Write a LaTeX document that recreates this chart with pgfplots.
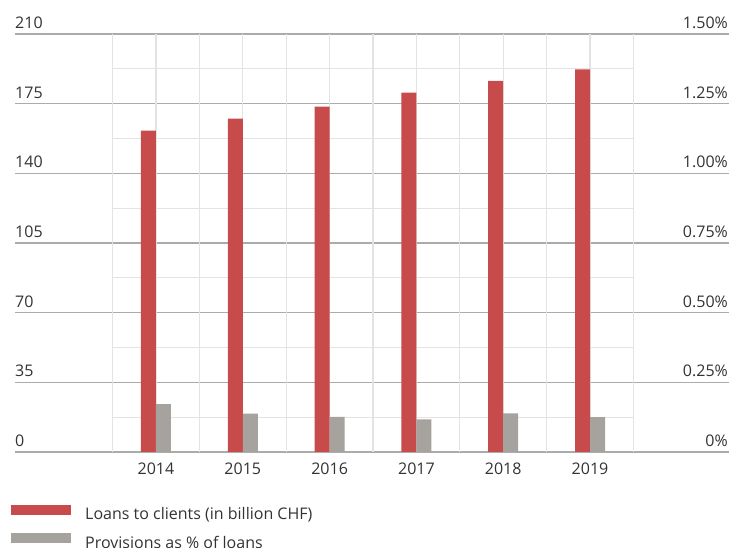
\documentclass[border=0pt]{standalone}
\usepackage{fontspec}
\setmainfont{Open Sans}
\usepackage{pgfplots}
\pgfplotsset{compat=1.18}
\definecolor{loanred}{HTML}{C84B4B}
\definecolor{provgrey}{HTML}{A6A29E}
\definecolor{majgrid}{HTML}{ABABAB}
\definecolor{mingrid}{HTML}{E3E3E3}
\definecolor{txt}{HTML}{333333}
\begin{document}
\begin{tikzpicture}[x=1bp,y=1bp]
\path[use as bounding box] (0,0) rectangle (732,548);
\begin{axis}[
  at={(15bp,96bp)}, anchor=south west,
  scale only axis, width=714bp, height=418bp,
  xmin=-1.624, xmax=6.601, ymin=0, ymax=210,
  axis line style={draw=none}, tick style={draw=none},
  font=\fontsize{16bp}{19bp}\selectfont, text=txt,
  xtick={0,1,2,3,4,5}, xticklabels={2014,2015,2016,2017,2018,2019},
  xticklabel style={anchor=north, inner sep=0pt, yshift=-10.5bp},
  ytick={0,35,70,105,140,175,210}, yticklabels={0,35,70,105,140,175,210},
  yticklabel style={anchor=south west, inner sep=0pt, yshift=5bp},
  ymajorgrids, grid style={majgrid, line width=1.2bp},
  legend style={at={(axis description cs:-0.0056,-0.126)}, anchor=north west,
    draw=none, fill=none, inner sep=0pt, row sep=12bp,
    font=\fontsize{16bp}{19bp}\selectfont, text=txt,
    nodes={inner sep=0pt}},
  legend cell align=left,
  legend image code/.code={\fill[#1,draw=none] (0bp,-0.5bp) rectangle (60bp,9.5bp);},
  /tikz/every odd column/.append style={column sep=14bp},
]
\pgfplotsinvokeforeach{-0.5,0,0.5,1,1.5,2,2.5,3,3.5,4,4.5,5,5.5}{
  \draw[mingrid, line width=1.3bp] (axis cs:#1,0) -- (axis cs:#1,210);
}
\pgfplotsinvokeforeach{17.5,52.5,87.5,122.5,157.5,192.5}{
  \draw[mingrid, line width=1.3bp] (axis cs:-0.5,#1) -- (axis cs:5.5,#1);
}
\addplot[ybar, bar width=15bp, bar shift=-7.5bp, fill=loanred, draw=none]
  coordinates {(0,161.5) (1,167.5) (2,173.5) (3,180.5) (4,186.5) (5,192.2)};
\addlegendentry{Loans to clients (in billion CHF)}
\addlegendimage{fill=provgrey}
\addlegendentry{Provisions as \% of loans}
\end{axis}
\begin{axis}[
  at={(15bp,96bp)}, anchor=south west,
  scale only axis, width=714bp, height=418bp,
  xmin=-1.624, xmax=6.601, ymin=0, ymax=1.5,
  axis line style={draw=none}, tick style={draw=none},
  font=\fontsize{16bp}{19bp}\selectfont, text=txt,
  xtick=\empty, yticklabel pos=right,
  ytick={0,0.25,0.5,0.75,1,1.25,1.5},
  yticklabels={0\%,0.25\%,0.50\%,0.75\%,1.00\%,1.25\%,1.50\%},
  yticklabel style={anchor=south east, inner sep=0pt, yshift=5bp, xshift=-1bp},
]
\addplot[ybar, bar width=15bp, bar shift=7.5bp, fill=provgrey, draw=none]
  coordinates {(0,0.172) (1,0.138) (2,0.126) (3,0.117) (4,0.139) (5,0.125)};
\end{axis}
\end{tikzpicture}
\end{document}
